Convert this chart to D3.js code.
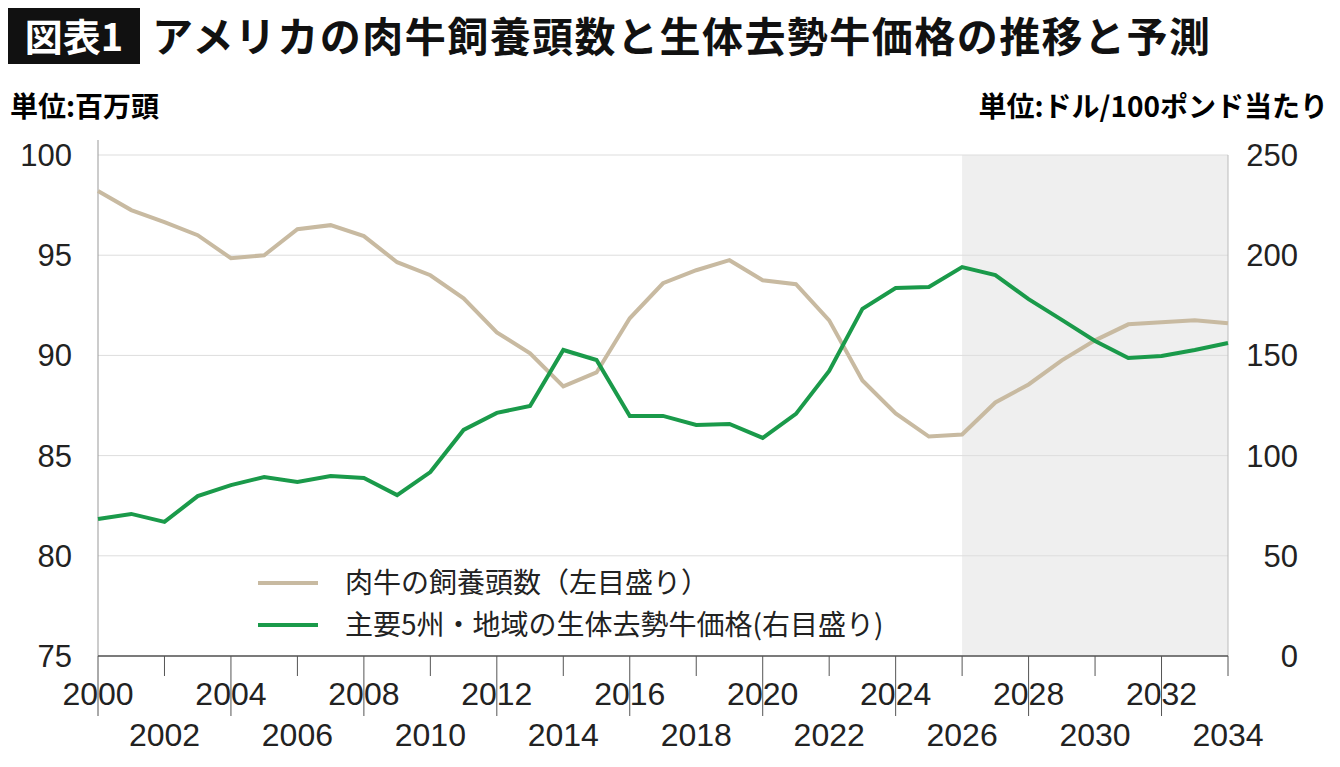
<!DOCTYPE html>
<html><head><meta charset="utf-8">
<script src="https://cdn.jsdelivr.net/npm/d3@7"></script>
<style>
body{margin:0;background:#fff;font-family:"Noto Sans CJK JP","Noto Sans",sans-serif;}
</style></head><body>
<svg id="chart" width="1340" height="767"></svg>
<script>
var years = d3.range(2000, 2035);
var herd = [98.2,97.25,96.65,96.0,94.85,95.0,96.3,96.5,95.95,94.65,94.0,92.85,91.15,90.1,88.45,89.15,91.85,93.6,94.25,94.75,93.75,93.55,91.75,88.75,87.1,85.95,86.05,87.65,88.55,89.75,90.75,91.55,91.65,91.75,91.6];
var price = [68.4,70.9,66.9,79.8,85.3,89.3,86.8,89.8,88.8,80.3,91.8,112.8,121.3,124.8,152.7,147.7,119.8,119.8,115.3,115.8,108.8,120.8,142.2,173.2,183.6,184.1,194.1,190.1,178.1,167.7,157.2,148.7,149.7,152.7,156.2];
var leftTicks = [75,80,85,90,95,100];
var rightTicks = [0,50,100,150,200,250];
var forecastStart = 2026;

var svg = d3.select('#chart');
var x = d3.scaleLinear().domain([2000, 2034]).range([98, 1228]);
var yL = d3.scaleLinear().domain([75, 100]).range([656, 155]);
var yR = d3.scaleLinear().domain([0, 250]).range([656, 155]);

// title
svg.append('rect').attr('x', 8).attr('y', 8).attr('width', 132).attr('height', 56).attr('fill', '#111');
svg.append('text').attr('x', 74).attr('y', 51).attr('text-anchor', 'middle').attr('fill', '#fff')
	.attr('font-size', 38).attr('font-weight', 'bold').text('図表1');
svg.append('text').attr('x', 152).attr('y', 52).attr('fill', '#111').attr('textLength', 1058)
	.attr('font-size', 41).attr('font-weight', 'bold').text('アメリカの肉牛飼養頭数と生体去勢牛価格の推移と予測');
svg.append('text').attr('x', 10).attr('y', 117).attr('font-size', 28).attr('font-weight', 'bold').text('単位:百万頭');
svg.append('text').attr('x', 1328).attr('y', 117).attr('text-anchor', 'end').attr('font-size', 28).attr('font-weight', 'bold').text('単位:ドル/100ポンド当たり');

// forecast shading
svg.append('rect').attr('x', x(forecastStart)).attr('y', yL(100))
	.attr('width', x(2034) - x(forecastStart)).attr('height', yL(75) - yL(100)).attr('fill', '#efefef');

// grid
svg.selectAll('line.grid').data(leftTicks).enter().append('line')
	.attr('x1', x(2000)).attr('x2', x(2034)).attr('y1', function(d){ return yL(d); }).attr('y2', function(d){ return yL(d); })
	.attr('stroke', '#ddd').attr('stroke-width', 1);

// axes lines
svg.append('line').attr('x1', x(2000)).attr('x2', x(2000)).attr('y1', 140).attr('y2', 656).attr('stroke', '#999');
svg.append('line').attr('x1', x(2034)).attr('x2', x(2034)).attr('y1', 155).attr('y2', 656).attr('stroke', '#bbb');
svg.append('line').attr('x1', x(2000)).attr('x2', x(2034)).attr('y1', 656).attr('y2', 656).attr('stroke', '#555').attr('stroke-width', 1.5);

// y labels
svg.selectAll('text.yl').data(leftTicks).enter().append('text')
	.attr('x', 72).attr('y', function(d){ return yL(d) + 11; }).attr('text-anchor', 'end')
	.attr('font-family', 'Liberation Sans, Arial').attr('font-size', 31).attr('fill', '#222').text(function(d){ return d; });
svg.selectAll('text.yr').data(rightTicks).enter().append('text')
	.attr('x', 1298).attr('y', function(d){ return yR(d) + 11; }).attr('text-anchor', 'end')
	.attr('font-family', 'Liberation Sans, Arial').attr('font-size', 31).attr('fill', '#222').text(function(d){ return d; });

// x ticks and labels
var xTicks = d3.range(2000, 2035, 2);
svg.selectAll('line.xt').data(xTicks).enter().append('line')
	.attr('x1', function(d){ return x(d); }).attr('x2', function(d){ return x(d); })
	.attr('y1', 656).attr('y2', function(d, i){ return i % 2 ? 676 : 716; })
	.attr('stroke', '#555');
svg.selectAll('text.xl').data(xTicks).enter().append('text')
	.attr('x', function(d){ return x(d); })
	.attr('y', function(d, i){ return i % 2 ? 746 : 705; })
	.attr('text-anchor', 'middle').attr('font-family', 'Liberation Sans, Arial').attr('font-size', 32).attr('fill', '#222')
	.text(function(d){ return d; });

// lines
var lineL = d3.line().x(function(d, i){ return x(years[i]); }).y(function(d){ return yL(d); });
var lineR = d3.line().x(function(d, i){ return x(years[i]); }).y(function(d){ return yR(d); });
svg.append('path').datum(herd).attr('d', lineL).attr('fill', 'none').attr('stroke', '#c8baa1').attr('stroke-width', 4);
svg.append('path').datum(price).attr('d', lineR).attr('fill', 'none').attr('stroke', '#1a9a4a').attr('stroke-width', 4);

// legend
var lg = svg.append('g');
lg.append('rect').attr('x', 240).attr('y', 558).attr('width', 700).attr('height', 90).attr('fill', '#fff');
var legendItems = [['肉牛の飼養頭数（左目盛り）', '#c8baa1'], ['主要5州・地域の生体去勢牛価格(右目盛り)', '#1a9a4a']];
legendItems.forEach(function(d, i){
	var yy = 583 + i * 42;
	lg.append('line').attr('x1', 258).attr('x2', 318).attr('y1', yy).attr('y2', yy).attr('stroke', d[1]).attr('stroke-width', 4);
	lg.append('text').attr('x', 345).attr('y', yy + 10).attr('font-size', 28).attr('fill', '#222').text(d[0]);
});
</script>
</body></html>
